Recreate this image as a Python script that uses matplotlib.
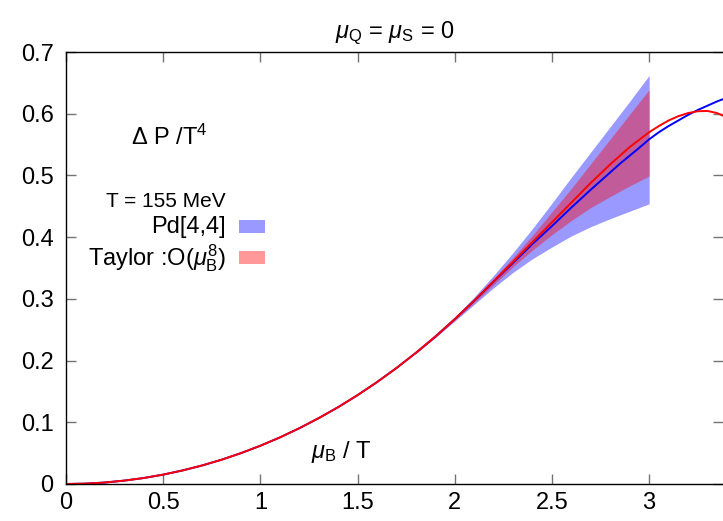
import numpy as np
import matplotlib
matplotlib.use('Agg')
import matplotlib.pyplot as plt
from matplotlib.patches import Rectangle

plt.rcParams['font.family'] = ['Liberation Sans', 'DejaVu Sans']
plt.rcParams['mathtext.fontset'] = 'custom'
plt.rcParams['mathtext.rm'] = 'Liberation Sans'
plt.rcParams['mathtext.it'] = 'Liberation Sans:italic'

# central curves (mu_B/T, Delta P/T^4)
mu = [0.0, 0.1, 0.2, 0.3, 0.4, 0.5, 0.6, 0.7, 0.8, 0.9, 1.0,
      1.1, 1.2, 1.3, 1.4, 1.5, 1.6, 1.7, 1.8, 1.9, 2.0,
      2.1, 2.2, 2.3, 2.4, 2.5, 2.6, 2.7, 2.8, 2.85, 2.9, 2.95, 3.0,
      3.05, 3.1, 3.15, 3.2, 3.25, 3.3, 3.35, 3.4]
pade = [0.0, 0.0006, 0.0024, 0.0055, 0.0097, 0.0152, 0.0220, 0.0300, 0.0393, 0.0500, 0.0620,
        0.0754, 0.0903, 0.1067, 0.1245, 0.1440, 0.1651, 0.1879, 0.2125, 0.2389, 0.2672,
        0.2970, 0.3280, 0.3585, 0.3890, 0.4180, 0.4480, 0.4770, 0.5050, 0.5190, 0.5320, 0.5450, 0.5585,
        0.5700, 0.5800, 0.5890, 0.5980, 0.6060, 0.6130, 0.6200, 0.6260]
taylor = [0.0, 0.0006, 0.0024, 0.0055, 0.0097, 0.0152, 0.0220, 0.0300, 0.0393, 0.0500, 0.0620,
          0.0754, 0.0903, 0.1067, 0.1245, 0.1440, 0.1651, 0.1879, 0.2125, 0.2389, 0.2672,
          0.2972, 0.3285, 0.3600, 0.3920, 0.4240, 0.4560, 0.4880, 0.5180, 0.5320, 0.5460, 0.5580, 0.5700,
          0.5800, 0.5890, 0.5960, 0.6010, 0.6040, 0.6045, 0.6010, 0.5940]

# error bands (up to mu_B/T = 3)
mu_band = [1.8, 1.9, 2.0, 2.1, 2.2, 2.3, 2.4, 2.5, 2.6, 2.7, 2.8, 2.9, 3.0]
pade_hi = [0.2135, 0.2405, 0.2705, 0.3030, 0.3380, 0.3750, 0.4140, 0.4550, 0.4970, 0.5380, 0.5790, 0.6200, 0.6620]
pade_lo = [0.2115, 0.2370, 0.2640, 0.2910, 0.3180, 0.3430, 0.3650, 0.3840, 0.4020, 0.4170, 0.4300, 0.4420, 0.4540]
taylor_hi = [0.2132, 0.2400, 0.2695, 0.3000, 0.3330, 0.3670, 0.4030, 0.4410, 0.4790, 0.5190, 0.5590, 0.5990, 0.6390]
taylor_lo = [0.2118, 0.2378, 0.2655, 0.2940, 0.3230, 0.3520, 0.3790, 0.4040, 0.4270, 0.4480, 0.4660, 0.4830, 0.4990]

xticks = [0, 0.5, 1, 1.5, 2, 2.5, 3]
yticks = [0, 0.1, 0.2, 0.3, 0.4, 0.5, 0.6, 0.7]

fig = plt.figure(figsize=(7.23, 5.21), dpi=100)
ax = fig.add_axes([66/723, 37/521, 657/723, 432/521])

blue_fill = (0, 0, 1, 0.4)
red_fill = (1, 0, 0, 0.4)
ax.fill_between(mu_band, pade_lo, pade_hi, color=blue_fill, lw=0)
ax.fill_between(mu_band, taylor_lo, taylor_hi, color=red_fill, lw=0)
ax.plot(mu, pade, color='#0000ff', lw=1.4)
ax.plot(mu, taylor, color='#ff0000', lw=1.4)

ax.set_xlim(0, 3.38)
ax.set_ylim(0, 0.7)
ax.set_xticks(xticks)
ax.set_xticklabels(['0', '0.5', '1', '1.5', '2', '2.5', '3'])
ax.set_yticks(yticks)
ax.set_yticklabels(['0', '0.1', '0.2', '0.3', '0.4', '0.5', '0.6', '0.7'])
ax.tick_params(direction='in', length=7, width=1, color='0.45',
               top=True, right=True, labelsize=17)
ax.tick_params(axis='x', pad=6)
ax.tick_params(axis='y', pad=9)
ax.spines['right'].set_visible(False)
for s in ['left', 'bottom', 'top']:
    ax.spines[s].set_linewidth(1.0)

ax.set_title(r'$\mu_{\rm Q}$ = $\mu_{\rm S}$ = 0', fontsize=17, pad=10)

ax.text(0.53, 0.562, r'$\Delta$ P /T$^4$', fontsize=17, ha='center', va='center')
ax.text(1.415, 0.052, r'$\mu_{\rm B}$ / T', fontsize=17, ha='center', va='center')

# legend drawn by hand to mimic gnuplot key
ax.text(0.823, 0.457, 'T = 155 MeV', fontsize=15, ha='right', va='center')
ax.text(0.823, 0.4165, 'Pd[4,4]', fontsize=17, ha='right', va='center')
ax.text(0.823, 0.366, r'Taylor :O($\mu_{\rm B}^8$)', fontsize=17, ha='right', va='center')
ax.add_patch(Rectangle((0.890, 0.4067), 0.134, 0.0211, color=blue_fill, lw=0))
ax.add_patch(Rectangle((0.890, 0.3565), 0.134, 0.0211, color=red_fill, lw=0))

fig.savefig('out.png', dpi=100)
